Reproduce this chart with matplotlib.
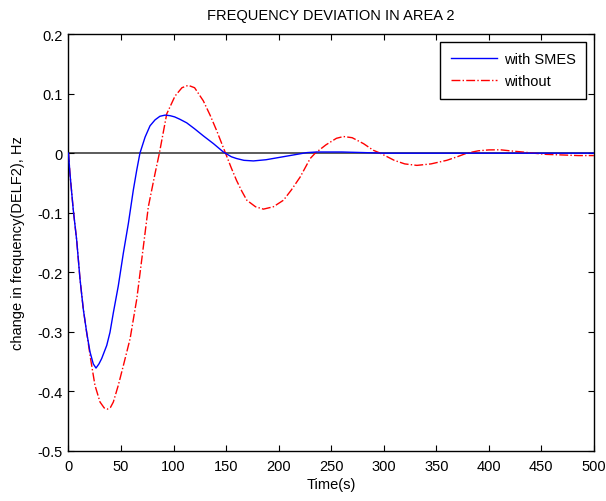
import matplotlib
matplotlib.use('Agg')
import matplotlib.pyplot as plt

plt.rcParams['font.family'] = ['Liberation Sans', 'DejaVu Sans']

# values
t_smes = [0, 1.4, 4.6, 7.8, 11, 14.1, 17.3, 20.5, 23.6, 26.2, 29, 31.6, 36.4, 39.5, 42.7, 47.4,
          52.2, 57, 61.7, 65, 68, 72.9, 77.6, 82.4, 87, 92, 96.7,
          101, 106, 112.5, 120, 128.4, 138, 147.4, 155, 160, 167, 176, 188, 201, 214, 227, 236,
          260, 281, 300, 350, 400, 450, 500]
v_smes = [0, -0.034, -0.096, -0.146, -0.212, -0.262, -0.301, -0.334, -0.354, -0.361, -0.354,
          -0.345, -0.323, -0.301, -0.268, -0.223,
          -0.168, -0.118, -0.062, -0.028, 0, 0.027, 0.046, 0.056, 0.062, 0.064, 0.063,
          0.061, 0.057, 0.051, 0.041, 0.029, 0.016, 0.002, -0.006, -0.009, -0.012, -0.013, -0.011,
          -0.007, -0.003, 0.001, 0.002, 0.002, 0.001, 0, 0, 0, 0, 0]

t_none = [0, 1.4, 4.6, 7.8, 11, 14.1, 17.3, 21, 25.2, 30, 34, 37, 40, 42.7, 47.4, 52.2, 58.6, 65,
          69.7, 76, 82.4, 86.5, 93.5, 101.4,
          108, 114, 120, 128.3, 135, 141, 149, 155, 160, 165, 169.7, 178, 185.5, 195, 204.6, 212,
          220.5, 230, 234.8, 245, 255, 261.7, 270, 280.8, 290, 296.7, 310, 320, 331.6, 345, 360,
          370, 379, 390, 400, 411, 420, 432, 442.7, 455, 470, 485, 500]
v_none = [0, -0.034, -0.096, -0.146, -0.212, -0.262, -0.301, -0.345, -0.39, -0.418, -0.428, -0.43,
          -0.427, -0.418, -0.39, -0.357, -0.312, -0.245,
          -0.179, -0.09, -0.034, 0, 0.066, 0.096,
          0.11, 0.114, 0.11, 0.088, 0.063, 0.038, 0.002, -0.025, -0.046, -0.064, -0.079, -0.09,
          -0.094, -0.09, -0.079, -0.062,
          -0.04, -0.009, 0, 0.014, 0.025, 0.028, 0.026, 0.016, 0.005, 0, -0.012, -0.018, -0.0205,
          -0.018, -0.012,
          -0.006, 0, 0.004, 0.0055, 0.0057, 0.004, 0.002, 0, -0.002, -0.003, -0.004, -0.004]

xticks = list(range(0, 501, 50))
yticks = [-0.5, -0.4, -0.3, -0.2, -0.1, 0, 0.1, 0.2]

fig = plt.figure(figsize=(6.06, 5.02), dpi=100)
ax = fig.add_axes([0.113, 0.1, 0.867, 0.83])

ax.axhline(0, color='0.25', lw=1.2, zorder=1)
ax.plot(t_smes, v_smes, color='blue', lw=1, label='with SMES', zorder=3)
ax.plot(t_none, v_none, color='red', lw=1, linestyle='-.', label='without', zorder=2)

ax.set_xlim(0, 500)
ax.set_ylim(-0.5, 0.2)
ax.set_xticks(xticks)
ax.set_yticks(yticks)
ax.set_yticklabels(['-0.5', '-0.4', '-0.3', '-0.2', '-0.1', '0', '0.1', '0.2'])
ax.tick_params(direction='in', top=True, right=True, length=4, labelsize=10.5)
ax.tick_params(axis='x', pad=6)
ax.tick_params(axis='y', pad=4)
for s in ax.spines.values():
    s.set_linewidth(1)

ax.set_title('FREQUENCY DEVIATION IN AREA 2', fontsize=10.5, pad=11)
ax.set_xlabel('Time(s)', fontsize=10.5, labelpad=3)
ax.set_ylabel('change in frequency(DELF2), Hz', fontsize=10.5, labelpad=9)

leg = ax.legend(loc='upper right', fontsize=10.5, fancybox=False, framealpha=1,
                edgecolor='black', handlelength=3.2, handletextpad=0.45,
                borderaxespad=0.55, borderpad=0.7, labelspacing=0.55)
leg.get_frame().set_linewidth(1)

fig.savefig('out.png', dpi=100)
